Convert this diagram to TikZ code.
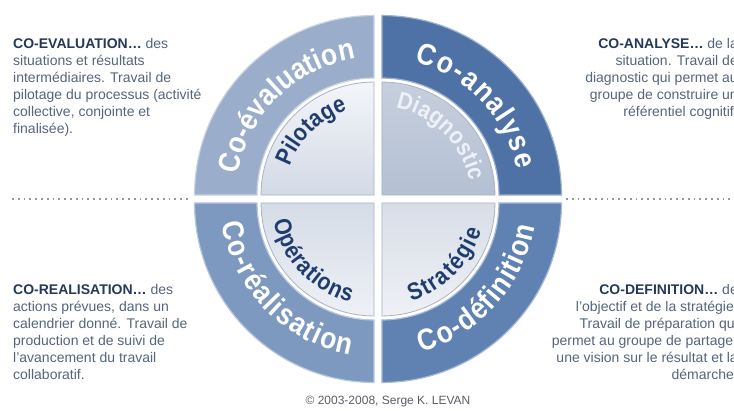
\documentclass[tikz,border=0pt]{standalone}
\usepackage{fontspec}
\setmainfont{Liberation Sans}
\newfontfamily\ringfam{Liberation Sans}[FakeStretch=0.88]
\usetikzlibrary{decorations.text}

\definecolor{evalring}{HTML}{9AAECB}
\definecolor{anaring}{HTML}{4F72A6}
\definecolor{realring}{HTML}{7E99C0}
\definecolor{defring}{HTML}{5F82B3}
\definecolor{evaltop}{HTML}{F3F5F9}
\definecolor{evalbot}{HTML}{D3DAE6}
\definecolor{anatop}{HTML}{C6CFDE}
\definecolor{anabot}{HTML}{B4C0D3}
\definecolor{realtop}{HTML}{D5DCE7}
\definecolor{realbot}{HTML}{EEF1F6}
\definecolor{deftop}{HTML}{D8DEE8}
\definecolor{defbot}{HTML}{EEF1F5}
\definecolor{coreedge}{HTML}{A9B3C4}
\definecolor{corenavy}{HTML}{1E3C6E}
\definecolor{diagwhite}{HTML}{EEF2F7}
\definecolor{bodygray}{HTML}{56657C}
\definecolor{titlenavy}{HTML}{24395A}
\definecolor{dotgray}{HTML}{8E98A8}
\definecolor{copygray}{HTML}{5A5F66}

\newcommand{\ringfont}{\ringfam\bfseries\fontsize{30}{30}\selectfont}
\newcommand{\corefont}{\ringfam\bfseries\fontsize{24}{24}\selectfont}
\newcommand{\blocktitle}[1]{\textbf{\textcolor{titlenavy}{#1}}}

\tikzset{
  ringtext/.style={decorate, decoration={text along path, text align={fit to path}, text color=white, text={|\ringfont|#1}}},
  coretext/.style={decorate, decoration={text along path, text align={fit to path}, text color=corenavy, text={|\corefont|#1}}},
  blocktext/.style={font=\fontsize{14}{17}\selectfont, text=bodygray, inner sep=0pt},
  dotline/.style={dotgray, line width=1.8pt, dash pattern=on 1.8pt off 4pt},
}

\begin{document}
\begin{tikzpicture}[x=1pt, y=1pt]
  \useasboundingbox (0,0) rectangle (734,410);
  \clip (0,0) rectangle (734,410);
  \fill[white] (0,0) rectangle (734,410);
  \coordinate (C) at (378,211);

  \begin{scope}[shift={(C)}]
    \foreach \a/\ring/\ctop/\cbot in {90/evalring/evaltop/evalbot, 0/anaring/anatop/anabot, 180/realring/realtop/realbot, 270/defring/deftop/defbot}{
      \begin{scope}[shift={({\a+45}:5.6pt)}]
        \fill[\ring, draw=\ring!55!white, line width=1.2pt] (\a:179.5pt) arc[start angle=\a, delta angle=90, radius=179.5pt] -- ({\a+90}:117pt) arc[start angle=\a+90, delta angle=-90, radius=117pt] -- cycle;
        \path[draw=coreedge, line width=0.8pt, top color=\ctop, bottom color=\cbot] (0,0) -- (\a:113pt) arc[start angle=\a, delta angle=90, radius=113pt] -- cycle;
      \end{scope}
    }
    \path[ringtext=Co-évaluation] (170:142pt) arc[start angle=170, end angle=99, radius=142pt];
    \path[ringtext=Co-analyse] (75:142pt) arc[start angle=75, end angle=12, radius=142pt];
    \path[ringtext=Co-réalisation] (189:158pt) arc[start angle=189, end angle=260, radius=158pt];
    \path[ringtext=Co-définition] (286:159pt) arc[start angle=286, end angle=350, radius=159pt];
    \path[coretext=Pilotage] (160:94pt) arc[start angle=160, end angle=109, radius=94pt];
    \path[coretext=Diagnostic, decoration={text color=diagwhite}] (79:93pt) arc[start angle=79, end angle=11, radius=93pt];
    \path[coretext=Opérations] (192:107pt) arc[start angle=192, end angle=255, radius=107pt];
    \path[coretext=Stratégie] (288:108pt) arc[start angle=288, end angle=343, radius=108pt];
  \end{scope}

  \coordinate (leftdot1) at (12,211);
  \coordinate (leftdot2) at (189,211);
  \coordinate (rightdot1) at (566,211);
  \coordinate (rightdot2) at (734,211);
  \draw[dotline] (leftdot1) -- (leftdot2);
  \draw[dotline] (rightdot1) -- (rightdot2);

  \node[blocktext, anchor=north west, align=left] (evaltext) at (13,372) {\blocktitle{CO-EVALUATION…} des\\situations et résultats\\intermédiaires. Travail de\\pilotage du processus (activité\\collective, conjointe et\\finalisée).};
  \node[blocktext, anchor=north east, align=right] (anatext) at (738,372) {\blocktitle{CO-ANALYSE…} de la\\situation. Travail de\\diagnostic qui permet au\\groupe de construire un\\référentiel cognitif.};
  \node[blocktext, anchor=north west, align=left] (realtext) at (13,126) {\blocktitle{CO-REALISATION…} des\\actions prévues, dans un\\calendrier donné. Travail de\\production et de suivi de\\l’avancement du travail\\collaboratif.};
  \node[blocktext, anchor=north east, align=right] (deftext) at (738,126) {\blocktitle{CO-DEFINITION…} de\\l’objectif et de la stratégie.\\Travail de préparation qui\\permet au groupe de partager\\une vision sur le résultat et la\\démarche.};
  \node[font=\fontsize{12}{13}\selectfont, text=copygray] (copyright) at (388,8) {© 2003-2008, Serge K. LEVAN};
\end{tikzpicture}
\end{document}
